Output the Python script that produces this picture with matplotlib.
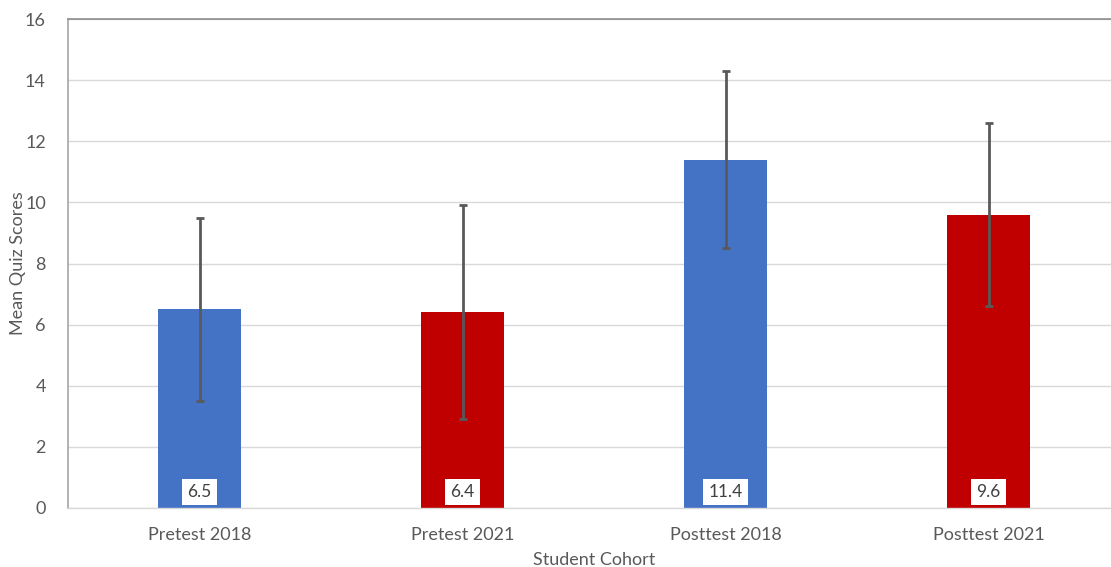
import matplotlib
matplotlib.use("Agg")
import matplotlib.pyplot as plt

categories = ["Pretest 2018", "Pretest 2021", "Posttest 2018", "Posttest 2021"]
means = [6.5, 6.4, 11.4, 9.6]
errors = [3.0, 3.5, 2.9, 3.0]
labels = ["6.5", "6.4", "11.4", "9.6"]
colors = ["#4472C4", "#C00000", "#4472C4", "#C00000"]
yticks = [0, 2, 4, 6, 8, 10, 12, 14, 16]

plt.rcParams['font.family'] = ['Lato', 'DejaVu Sans']

fig = plt.figure(figsize=(11.11, 5.67), dpi=100)
ax = fig.add_axes([68/1111, 1 - 508/567, (1120 - 68)/1111, (508 - 19)/567])

x = list(range(len(categories)))
ax.bar(x, means, width=0.312, color=colors, zorder=2)
ax.errorbar(x, means, yerr=errors, fmt='none', ecolor='#595959',
            elinewidth=2, capsize=3, capthick=2, zorder=3)

for xi, lab in zip(x, labels):
    ax.text(xi, 0.52, lab, ha='center', va='center', fontsize=12.5, color='#404040',
            bbox=dict(boxstyle='square,pad=0.3', fc='white', ec='none'), zorder=4)

ax.set_xlim(-0.5, 3.5)
ax.set_ylim(0, 16)
ax.set_yticks(yticks)
ax.set_xticks(x)
ax.set_xticklabels(categories)
ax.yaxis.grid(True, color='#D9D9D9', linewidth=1, zorder=0)
ax.set_axisbelow(True)
ax.tick_params(axis='both', length=0, labelsize=13, colors='#595959')
ax.tick_params(axis='x', pad=14)
ax.tick_params(axis='y', pad=16)

ax.spines['right'].set_visible(False)
ax.spines['top'].set_color('#8C8C8C')
ax.spines['top'].set_linewidth(1.2)
ax.spines['left'].set_color('#A6A6A6')
ax.spines['left'].set_linewidth(1.2)
ax.spines['bottom'].set_color('#D9D9D9')
ax.spines['bottom'].set_linewidth(1)

ax.set_xlabel("Student Cohort", fontsize=13, color='#595959', va='center')
ax.set_ylabel("Mean Quiz Scores", fontsize=13, color='#595959', va='center')
ax.xaxis.set_label_coords(0.5, (508 - 560) / 489)
ax.yaxis.set_label_coords((18 - 68) / 1052, 0.5)

fig.savefig("out.png", dpi=100)
